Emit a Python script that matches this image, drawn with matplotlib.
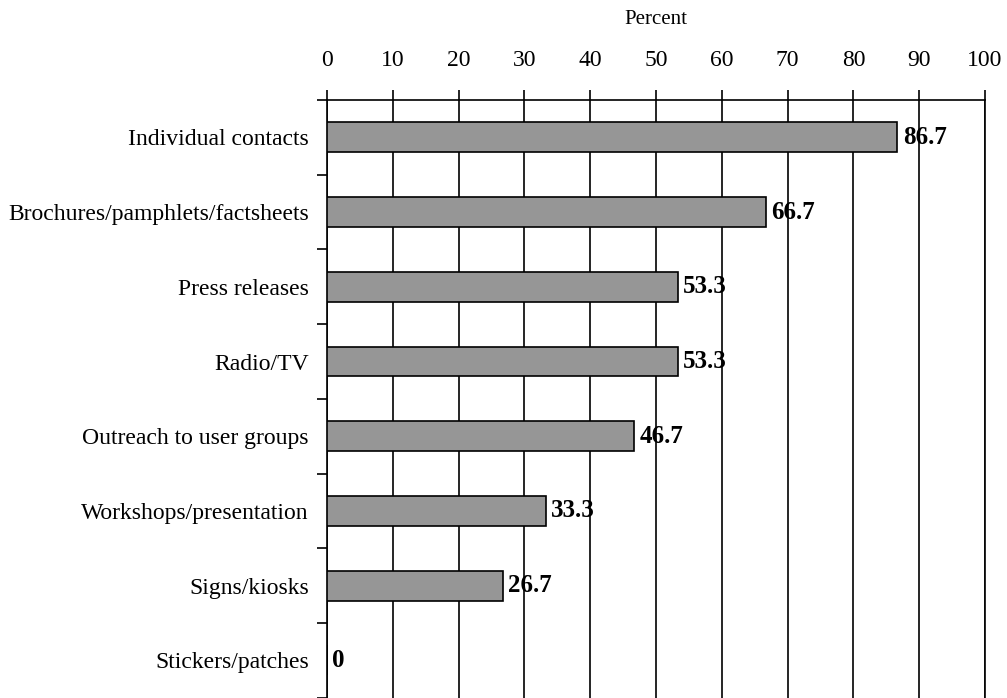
import matplotlib.pyplot as plt
import numpy as np

categories = ["Individual contacts", "Brochures/pamphlets/factsheets", "Press releases",
              "Radio/TV", "Outreach to user groups", "Workshops/presentation",
              "Signs/kiosks", "Stickers/patches"]
values = [86.7, 66.7, 53.3, 53.3, 46.7, 33.3, 26.7, 0]
xticks = list(range(0, 101, 10))

plt.rcParams["font.family"] = ["Liberation Serif", "DejaVu Serif"]

fig = plt.figure(figsize=(10.07, 6.98), dpi=100)
ax = fig.add_axes([327/1007, -5/698, 658/1007, 603/698])

y = np.arange(len(categories))
ax.barh(y, values, height=0.4, color="#969696", edgecolor="black", linewidth=1.2, zorder=3)
for yi, v in zip(y, values):
    ax.text(v + 0.8, yi, f"{v:g}", va="center", ha="left", fontsize=18,
            fontweight="bold", zorder=4)

ax.set_xlim(0, 100)
ax.set_ylim(len(categories) - 0.5 + 0.07, -0.5)
ax.set_xticks(xticks)
ax.xaxis.tick_top()
ax.tick_params(axis="x", which="major", direction="out", length=7, width=1.2,
               labelsize=17, pad=14)
fig.text(656/1007, 1 - 20/698, "Percent", ha="center", va="center", fontsize=15)

ax.set_yticks(y)
ax.set_yticklabels(categories)
ax.set_yticks(np.arange(-0.5, len(categories), 1), minor=True)
ax.tick_params(axis="y", which="major", length=0, labelsize=17, pad=13)
ax.tick_params(axis="y", which="minor", length=7, width=1.2, direction="out")

ax.grid(axis="x", color="black", linewidth=1.2, zorder=0)
for s in ax.spines.values():
    s.set_linewidth(1.2)
ax.spines["bottom"].set_visible(False)

fig.savefig("out.png", dpi=100)
